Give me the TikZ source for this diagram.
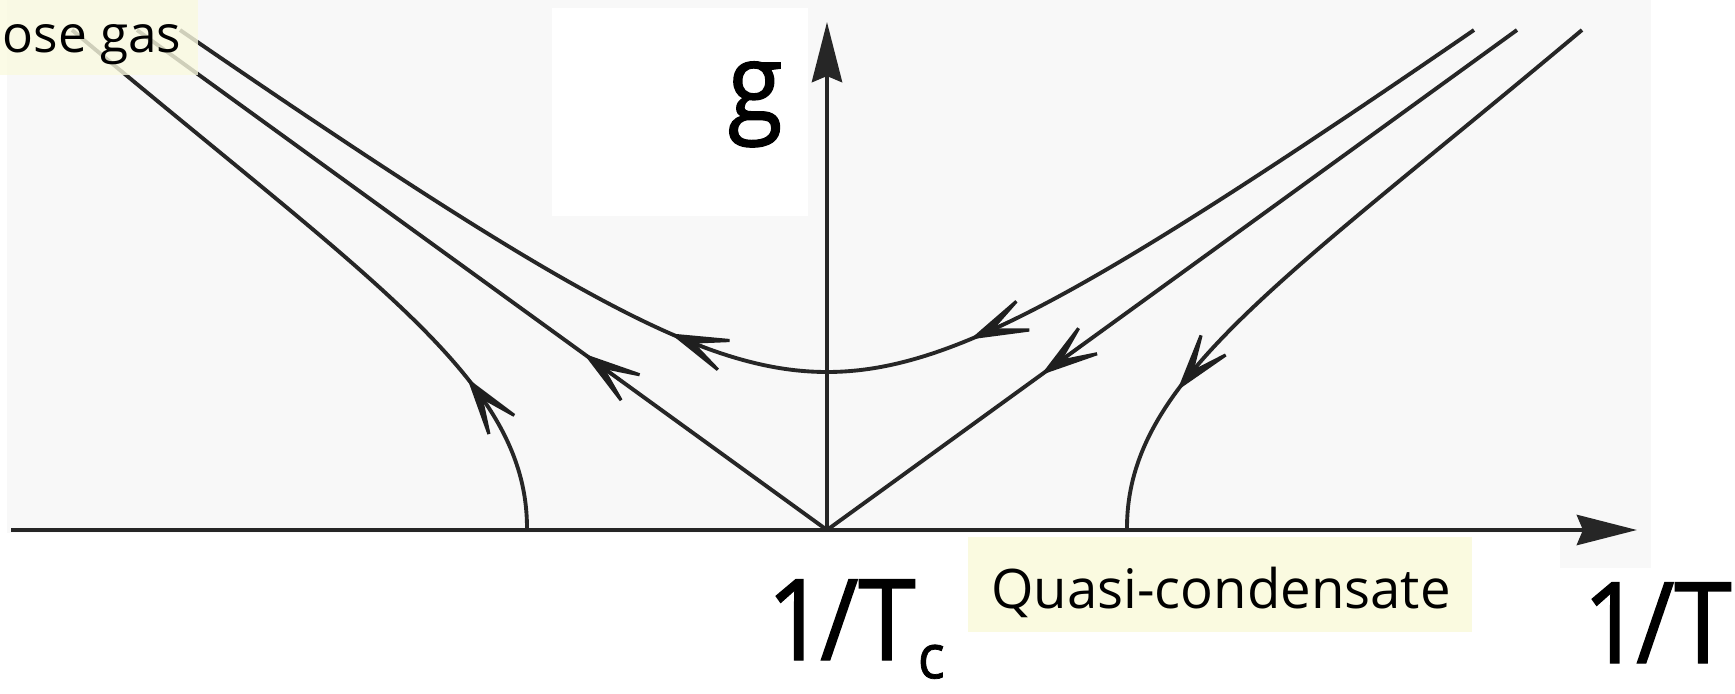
\documentclass[tikz,border=0pt]{standalone}
\usepackage{fontspec}
\setmainfont{Open Sans}
\newfontfamily\bigfont{Open Sans}[FakeStretch=0.92, FakeBold=1.2]
\usetikzlibrary{arrows.meta}
\definecolor{bggray}{RGB}{248,248,248}
\definecolor{labelyellow}{RGB}{250,250,224}
\begin{document}
\begin{tikzpicture}[x=0.01cm,y=-0.01cm,
  flowline/.style={line width=1.1pt, draw=black!85},
  flowtip/.style={line width=0.9pt, draw=black!88, fill=black!88,
    -{Stealth[length=8mm,width=4.8mm,inset=5.3mm]}},
  axisline/.style={line width=1.4pt, draw=black!85,
    -{Stealth[length=6mm,width=3mm,inset=0.6mm]}},
  labelbox/.style={fill=labelyellow, inner sep=0pt, outer sep=0pt},
  labeltext/.style={font=\fontsize{15.5}{18}\selectfont, inner sep=0pt},
  bigtext/.style={font=\bigfont\fontsize{32}{36}\selectfont, inner sep=0pt},
  declare function={hyp(\u)=372-100*(sqrt(1.465*1.465+(0.0072*(\u-827))*(0.0072*(\u-827)))-1.465);}
]
\useasboundingbox (0,0) rectangle (1735,694);
% background panels
\fill[bggray] (7,0) rectangle (1651,533);
\fill[bggray] (1560,533) rectangle (1651,568);
\fill[white] (552,8) rectangle (808,216);
\node[anchor=base west, font=\bigfont\fontsize{31}{32}\selectfont, inner sep=0pt] (glabel) at (727,121) {g};

% axes
\coordinate (O) at (827,530);
\coordinate (xstart) at (11,530);
\coordinate (xend) at (1637,530);
\coordinate (yend) at (827,22);
\draw[axisline] (xstart) -- (xend);
\draw[axisline] (O) -- (yend);

% curve A (left, from axis upwards)
\coordinate (A0) at (527,528);
\coordinate (A1) at (527,380);
\coordinate (A2) at (372,282);
\coordinate (A3) at (72,30);
\draw[flowline] (A0) .. controls (A1) and (A2) .. (A3);
\path (A0) .. controls (A1) and (A2) .. (A3)
  coordinate[pos=0.30] (Atail) coordinate[pos=0.36] (Atip);
\draw[flowtip] (Atail) -- (Atip);

% curve F (right, from top down to axis)
\coordinate (F0) at (1127,528);
\coordinate (F1) at (1127,380);
\coordinate (F2) at (1282,282);
\coordinate (F3) at (1582,30);
\draw[flowline] (F0) .. controls (F1) and (F2) .. (F3);
\path (F0) .. controls (F1) and (F2) .. (F3)
  coordinate[pos=0.39] (Ftail) coordinate[pos=0.33] (Ftip);
\draw[flowtip] (Ftail) -- (Ftip);

% separatrix B (origin to upper left)
\coordinate (B1) at (137,30);
\draw[flowline] (O) -- (B1);
\path (O) -- (B1) coordinate[pos=0.30] (Btail) coordinate[pos=0.353] (Btip);
\draw[flowtip] (Btail) -- (Btip);

% separatrix E (upper right to origin)
\coordinate (E1) at (1517,30);
\draw[flowline] (E1) -- (O);
\path (E1) -- (O) coordinate[pos=0.63] (Etail) coordinate[pos=0.69] (Etip);
\draw[flowtip] (Etail) -- (Etip);

% hyperbola C/D
\draw[flowline] plot[domain=180:1474, samples=140, smooth] (\x,{hyp(\x)});
\coordinate (Dtail) at (1010,{hyp(1010)});
\coordinate (Dtip) at (970,{hyp(970)});
\draw[flowtip] (Dtail) -- (Dtip);
\coordinate (Ctail) at (708,{hyp(708)});
\coordinate (Ctip) at (670,{hyp(670)});
\draw[flowtip] (Ctail) -- (Ctip);

% labels
\node[labelbox, fill opacity=0.8, anchor=north west, minimum width=1.98cm, minimum height=0.75cm] (boxbose) at (0,0) {};
\node[labeltext, font=\fontsize{14.6}{17}\selectfont, anchor=base west] (bose) at (2,52) {ose gas};
\node[labelbox, anchor=north west, minimum width=5.04cm, minimum height=0.95cm] (boxquasi) at (968,537) {};
\node[labeltext, anchor=base] (quasi) at (1221,608) {Quasi-condensate};

\node[bigtext, anchor=base west] (invtc) at (766,660) {1\kern-0.05em/T\kern0.02em\raisebox{-5.2pt}{\bigfont\fontsize{17.5}{18}\selectfont c}};
\node[bigtext, anchor=base west] (invt) at (1582,663) {1\kern-0.05em/T};
\end{tikzpicture}
\end{document}
